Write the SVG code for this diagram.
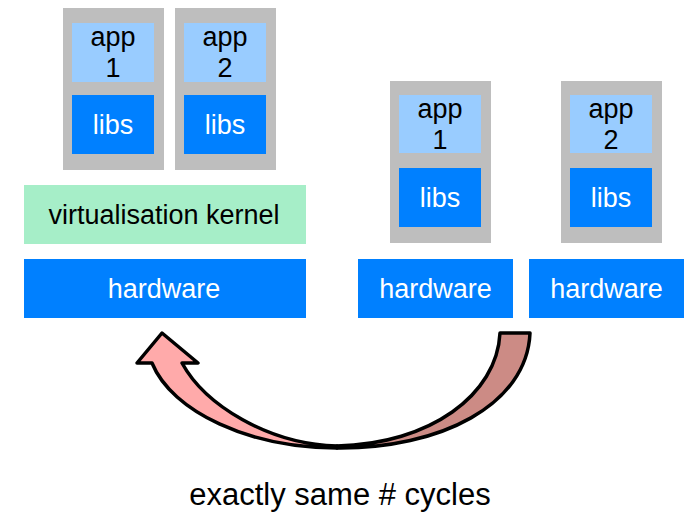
<svg xmlns="http://www.w3.org/2000/svg" width="684" height="512" viewBox="0 0 684 512">
  <style>
    .frame { fill: #bebebe; }
    .app { fill: #99ccff; }
    .blue { fill: #0080ff; }
    .kernel { fill: #a6eec8; }
    text { font-family: "Liberation Sans", Arial, sans-serif; font-size: 27px; text-anchor: middle; }
    .dark { fill: #000000; }
    .light { fill: #ffffff; }
    .caption { font-size: 31px; fill: #000000; }
    .arrow { stroke: #000000; stroke-width: 3.5; stroke-linejoin: round; }
  </style>

  <!-- virtualised stack -->
  <g id="vm1">
    <rect class="frame" x="63" y="8" width="101" height="162"/>
    <rect class="app" x="72" y="23" width="82" height="59"/>
    <text class="dark" x="113" y="46">app</text>
    <text class="dark" x="113" y="77">1</text>
    <rect class="blue" x="72" y="95" width="82" height="59"/>
    <text class="light" x="113" y="134">libs</text>
  </g>
  <g id="vm2">
    <rect class="frame" x="175" y="8" width="101" height="162"/>
    <rect class="app" x="184" y="23" width="82" height="59"/>
    <text class="dark" x="225" y="46">app</text>
    <text class="dark" x="225" y="77">2</text>
    <rect class="blue" x="184" y="95" width="82" height="59"/>
    <text class="light" x="225" y="134">libs</text>
  </g>
  <g id="kernel">
    <rect class="kernel" x="24" y="185" width="282" height="59"/>
    <text class="dark" x="164" y="224">virtualisation kernel</text>
  </g>
  <g id="hw-shared">
    <rect class="blue" x="24" y="259" width="282" height="59"/>
    <text class="light" x="164" y="298">hardware</text>
  </g>

  <!-- dedicated machines -->
  <g id="m1">
    <rect class="frame" x="390" y="81" width="101" height="162"/>
    <rect class="app" x="399" y="95" width="82" height="58"/>
    <text class="dark" x="440" y="118">app</text>
    <text class="dark" x="440" y="149">1</text>
    <rect class="blue" x="399" y="168" width="82" height="59"/>
    <text class="light" x="440" y="207">libs</text>
  </g>
  <g id="m2">
    <rect class="frame" x="561" y="81" width="101" height="162"/>
    <rect class="app" x="570" y="95" width="82" height="58"/>
    <text class="dark" x="611" y="118">app</text>
    <text class="dark" x="611" y="149">2</text>
    <rect class="blue" x="570" y="168" width="82" height="59"/>
    <text class="light" x="611" y="207">libs</text>
  </g>
  <g id="hw1">
    <rect class="blue" x="358" y="259" width="155" height="59"/>
    <text class="light" x="435.5" y="298">hardware</text>
  </g>
  <g id="hw2">
    <rect class="blue" x="529" y="259" width="155" height="59"/>
    <text class="light" x="606.5" y="298">hardware</text>
  </g>

  <!-- curved ribbon arrow -->
  <g id="connectors">
    <path class="arrow" fill="#cc8b85" d="M337,448 C440,449 527,405 530,333 L500,333 C497,395 430,444 337,446 Z"/>
    <path class="arrow" fill="#ffaaaa" d="M337,448 C250,448 172,412 152,363 L137,363 L162,333 L198,363 L182,363 C205,405 268,444 337,446 Z"/>
  </g>

  <text class="caption" x="340" y="505">exactly same # cycles</text>
</svg>
